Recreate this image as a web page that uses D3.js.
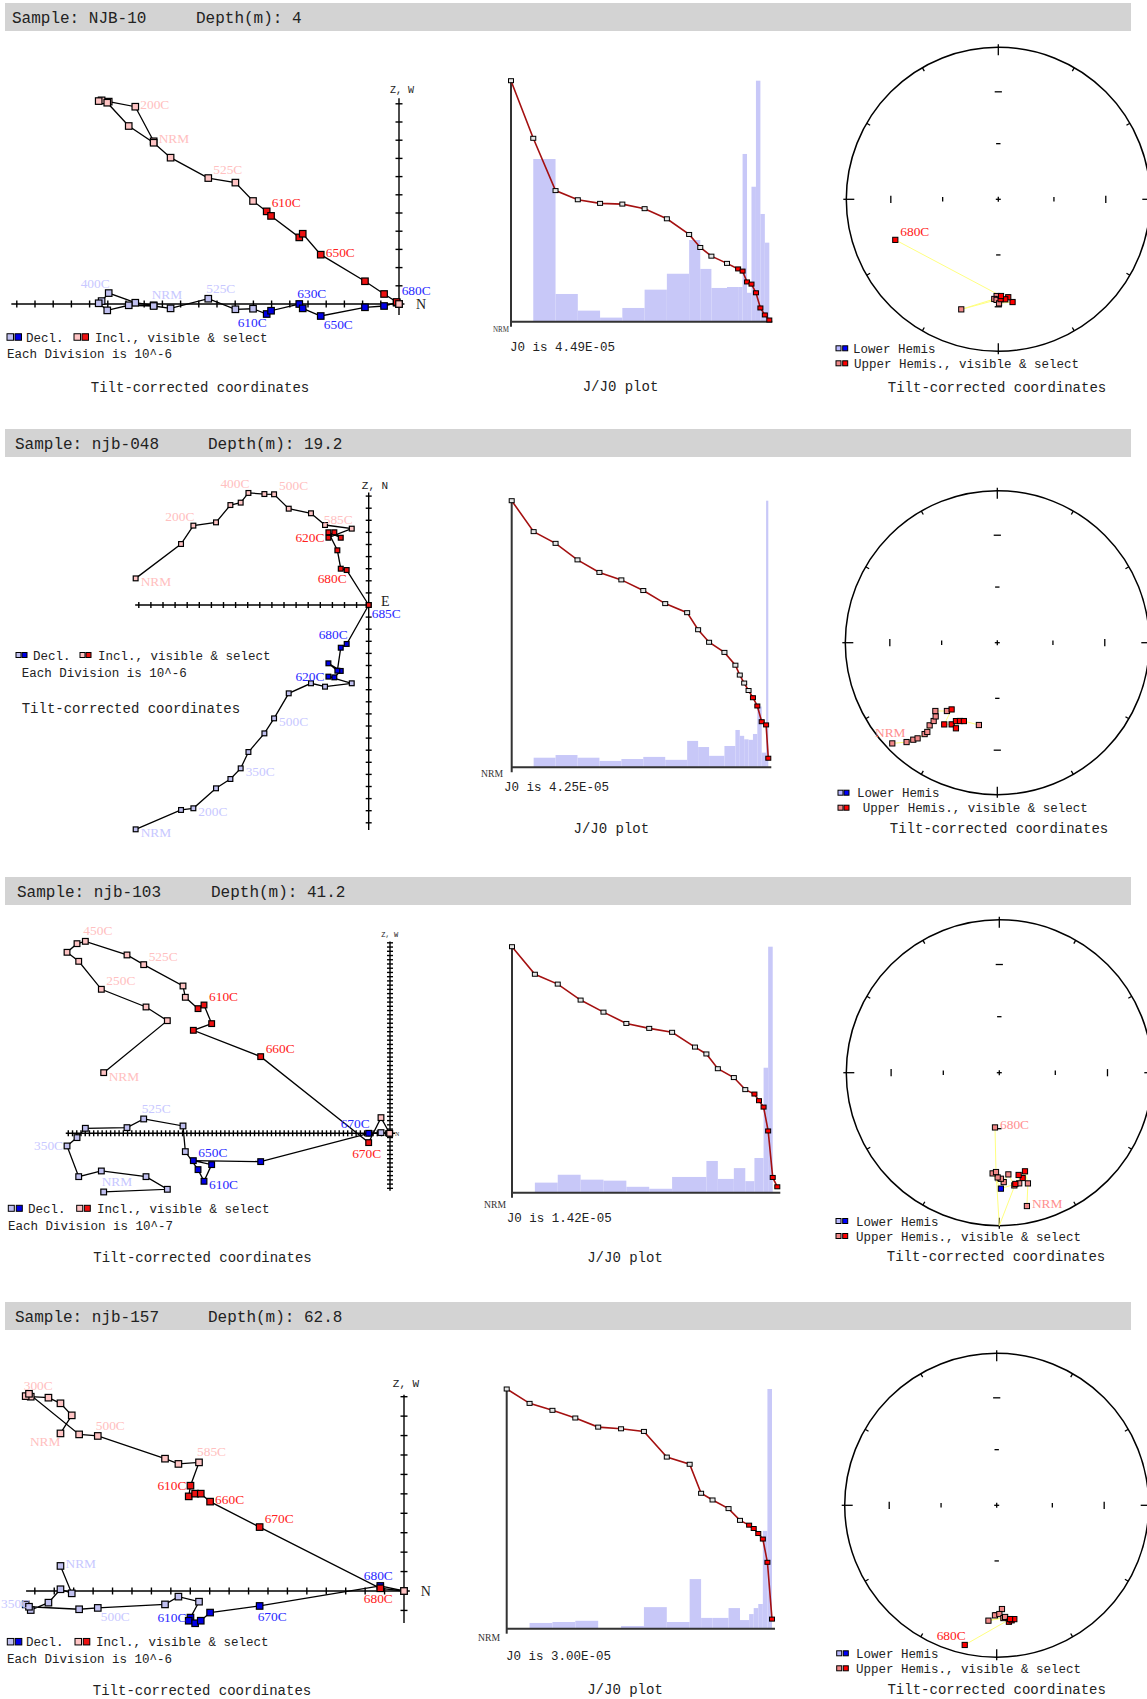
<!DOCTYPE html>
<html>
<head>
<meta charset="utf-8">
<script src="https://cdn.jsdelivr.net/npm/d3@7/dist/d3.min.js"></script>
<style>
  body { margin: 0; background: #fff; }
  svg text { font-family: "Liberation Mono", monospace; fill: #222; }
</style>
</head>
<body>
<svg id="fig" width="1147" height="1699"></svg>
<script>
// sample headers
const sampleNames = ["NJB-10", "njb-048", "njb-103", "njb-157"];
const sampleDepths = ["4", "19.2", "41.2", "62.8"];
const divisionExp = ["10^-6", "10^-6", "10^-7", "10^-6"];
const j0Values = ["4.49E-05", "4.25E-05", "1.42E-05", "3.00E-05"];

// ---- Zijderveld: horizontal comp., decl-plane comp., incl-plane comp. (in divisions)
const njb10N = [-13.48,-14.49,-15.95,-16.34,-16.50,-16.03,-14.85,-13.48,-12.55,-10.48,-8.99,-8.02,-7.27,-7.03,-5.48,-5.29,-4.30,-1.87,-0.82,-0.13,0];
const njb10Dec = [-0.07,0.07,0.60,0.16,0.04,-0.35,-0.07,-0.11,-0.24,0.29,-0.29,-0.26,-0.55,-0.37,0.00,-0.24,-0.66,-0.18,-0.11,0.07,0];
const njb10Inc = [8.94,10.84,11.12,11.19,11.15,11.06,9.78,8.86,8.04,6.92,6.67,5.66,5.09,4.84,3.66,3.86,2.71,1.25,0.55,0.11,0];
const njb10Sel = [12, 19];

const njb048N = [-19.26,-15.51,-14.49,-12.62,-11.43,-10.58,-9.94,-8.62,-7.82,-6.61,-4.77,-3.61,-1.40,-3.33,-2.84,-2.31,-3.33,-2.59,-2.31,-1.82,0];
const njb048Dec = [-18.54,-16.94,-16.80,-15.15,-14.38,-13.50,-12.15,-10.61,-9.37,-7.30,-6.47,-6.75,-6.47,-5.92,-5.98,-5.45,-4.82,-5.43,-3.53,-3.22,0];
const njb048Inc = [2.20,5.04,6.56,6.83,8.26,8.46,9.26,9.17,9.15,7.96,7.58,6.61,6.31,5.56,6.01,5.56,6.01,4.52,3.00,2.89,0];
const njb048Sel = [13, 20];

const njb103N = [-67.64,-52.60,-57.64,-68.19,-73.54,-76.30,-73.94,-71.97,-62.13,-58.19,-48.90,-48.35,-45.35,-43.94,-42.13,-46.46,-30.55,-5.04,-2.13,-0.08];
const njb103Dec = [-13.86,-13.23,-10.24,-8.90,-10.24,-2.99,-1.02,1.18,1.34,3.39,1.73,-4.33,-8.58,-11.34,-7.40,-6.46,-6.69,0.00,0.16,0];
const njb103Inc = [14.33,26.61,29.84,34.02,40.63,42.76,44.80,45.35,42.13,39.84,34.80,32.13,29.45,30.31,25.91,24.33,18.11,-2.20,3.70,0];
const njb103Sel = [12, 17];

const njb157N = [-17.68,-17.10,-17.68,-18.30,-19.21,-19.47,-19.30,-16.72,-15.76,-12.30,-11.61,-10.55,-10.99,-11.08,-10.75,-10.46,-9.98,-7.43,-1.22,0];
const njb157Dec = [1.29,-0.12,0.09,-0.60,-0.98,-0.69,-0.81,-0.94,-0.87,-0.69,-0.29,-0.55,-1.37,-1.53,-1.66,-1.53,-1.11,-0.77,0.26,0];
const njb157Inc = [8.11,9.04,9.66,9.95,10.00,10.03,10.15,8.06,7.98,6.81,6.54,6.62,5.42,4.87,5.01,5.01,4.60,3.29,0.14,0];
const njb157Sel = [12, 18];

// step labels: [step index, text, placement]
const njb10IncLab = [[0,"NRM","r"],[1,"200C","r"],[9,"525C","ru"],[12,"610C","ru"],[16,"650C","r"]];
const njb10DecLab = [[0,"NRM","u"],[2,"400C","lu"],[9,"525C","u"],[12,"610C","ld"],[14,"630C","u"],[16,"650C","rd"],[19,"680C","ruu"]];
const njb048IncLab = [[0,"NRM","rl"],[2,"200C","lu"],[6,"400C","lu"],[8,"500C","ru"],[12,"585C","lu"],[13,"620C","l"],[19,"680C","ld"]];
const njb048DecLab = [[0,"NRM","rl"],[2,"200C","rl"],[5,"350C","rl"],[8,"500C","rl"],[13,"620C","l"],[19,"680C","lu"],[20,"685C","rd"]];
const njb103IncLab = [[0,"NRM","rl"],[3,"250C","ru"],[7,"450C","u"],[9,"525C","ru"],[13,"610C","ru"],[16,"660C","ru"],[17,"670C","dc"]];
const njb103DecLab = [[0,"NRM","u"],[5,"350C","l"],[9,"525C","u"],[13,"610C","rl"],[15,"650C","ru"],[17,"670C","lu"]];
const njb157IncLab = [[5,"300C","u"],[0,"NRM","ld"],[8,"500C","u"],[11,"585C","u"],[12,"610C","l"],[16,"660C","r"],[17,"670C","ru"],[18,"680C","dc"]];
const njb157DecLab = [[0,"NRM","r"],[5,"350C","l"],[8,"500C","rd"],[12,"610C","l"],[17,"670C","d"],[18,"680C","uc"]];

// ---- J/J0: step temperature, remaining intensity, loss-rate bars (per interval after first step)
const njb10T = [100,150,200,250,300,350,400,450,500,525,550,585,610,620,630,640,650,660,670,680];
const njb10J = [1.0,0.761,0.544,0.506,0.491,0.488,0.469,0.427,0.362,0.308,0.272,0.242,0.219,0.210,0.165,0.156,0.120,0.057,0.028,0.007];
const njb10Bars = [0.675,0.115,0.046,0.017,0.057,0.133,0.199,0.339,0.219,0.140,0.144,0.144,0.696,0.120,0.560,1.0,0.447,0.328];
const njb10JSel = 12;

const njb048T = [100,150,200,250,300,350,400,450,500,525,550,585,610,620,630,640,650,660,670,680,685];
const njb048J = [1.0,0.884,0.840,0.778,0.731,0.703,0.663,0.614,0.580,0.516,0.469,0.431,0.383,0.346,0.316,0.288,0.261,0.230,0.171,0.159,0.034];
const njb048Bars = [0.036,0.046,0.036,0.024,0.031,0.039,0.028,0.099,0.076,0.043,0.080,0.140,0.118,0.105,0.103,0.125,0.228,0.055,1.0];
const njb048JSel = 16;

const njb103T = [100,150,200,250,300,350,400,450,500,525,550,585,610,630,640,650,660,670,680];
const njb103J = [1.0,0.888,0.848,0.783,0.734,0.688,0.668,0.652,0.592,0.564,0.504,0.468,0.419,0.401,0.374,0.348,0.251,0.062,0.024];
const njb103Bars = [0.041,0.073,0.053,0.049,0.024,0.016,0.064,0.064,0.129,0.056,0.100,0.047,0.141,0.141,0.508,1.0,0.0];
const njb103JSel = 13;

const njb157T = [100,150,200,250,300,350,400,450,500,525,550,585,610,630,640,650,660,670,680];
const njb157J = [1.0,0.940,0.911,0.879,0.841,0.834,0.823,0.716,0.686,0.565,0.537,0.501,0.452,0.432,0.418,0.397,0.374,0.277,0.040];
const njb157Bars = [0.024,0.028,0.033,0.003,0.011,0.090,0.028,0.207,0.045,0.045,0.086,0.036,0.061,0.086,0.103,0.408,1.0];
const njb157JSel = 13;

// ---- equal-area net: declination, inclination (neg = upper hemisphere), selected flag
const njb10StDec = [181.0,182.3,198.6,181.0,179.6,172.1,174.2,176.0,178.7,178.4,248.5];
const njb10StInc = [-36.5,-34.7,-24.6,-34.2,-32.1,-32.3,-35.5,-34.4,-34.6,-36.5,-28.0];
const njb10StSel = [0,0,0,0,0,1,1,1,1,1,1];
const njb10StLab = [[10,"680C","ru"]];

const njb048StDec = [226.2,222.4,220.9,219.8,218.5,218.1,219.3,219.1,219.9,222.2,216.4,214.4,213.0,209.2,205.8,207.8,205.5,203.1,192.6];
const njb048StInc = [-4.8,-12.5,-16.7,-19.2,-24.2,-26.3,-30.4,-34.0,-36.9,-39.2,-43.5,-45.8,-36.1,-38.4,-37.5,-41.3,-42.4,-43.3,-43.8];
const njb048StSel = [0,0,0,0,0,0,0,0,0,0,0,1,1,1,1,1,1,1,0];
const njb048StLab = [[0,"NRM","uc"]];

// the step with inclination 0 sits on the primitive and has no marker
const njb103StDec = [168.3,165.5,165.4,167.5,169.3,169.8,172.4,174.9,177.7,179.1,180.9,183.8,179.2,171.8,180.0,181.9,184.5];
const njb103StInc = [-12.0,-26.2,-33.8,-30.2,-32.5,-27.4,-26.6,-33.7,-29.2,-31.3,-32.1,-34.4,25.2,-27.4,0,-35.3,-60.6];
const njb103StSel = [0,0,1,1,1,0,0,0,0,0,0,0,1,1,0,0,0];
const njb103StLab = [[0,"NRM","r"],[16,"680C","r"]];

const njb157StDec = [177.1,180.9,178.6,176.6,184.1,175.7,174.0,172.6,171.2,173.3,192.9];
const njb157StInc = [-32.2,-28.4,-29.2,-26.6,-24.9,-27.2,-24.0,-24.7,-25.2,-25.6,-6.4];
const njb157StSel = [0,0,0,0,0,0,1,1,1,1,1];
const njb157StLab = [[10,"680C","lu"]];

// table built from the arrays above
const samples = [
  { zij: { n: njb10N, dec: njb10Dec, inc: njb10Inc, sel: njb10Sel, incLab: njb10IncLab, decLab: njb10DecLab },
    jj: { T: njb10T, J: njb10J, bars: njb10Bars, sel: njb10JSel },
    st: { dec: njb10StDec, inc: njb10StInc, sel: njb10StSel, lab: njb10StLab } },
  { zij: { n: njb048N, dec: njb048Dec, inc: njb048Inc, sel: njb048Sel, incLab: njb048IncLab, decLab: njb048DecLab },
    jj: { T: njb048T, J: njb048J, bars: njb048Bars, sel: njb048JSel },
    st: { dec: njb048StDec, inc: njb048StInc, sel: njb048StSel, lab: njb048StLab } },
  { zij: { n: njb103N, dec: njb103Dec, inc: njb103Inc, sel: njb103Sel, incLab: njb103IncLab, decLab: njb103DecLab },
    jj: { T: njb103T, J: njb103J, bars: njb103Bars, sel: njb103JSel },
    st: { dec: njb103StDec, inc: njb103StInc, sel: njb103StSel, lab: njb103StLab } },
  { zij: { n: njb157N, dec: njb157Dec, inc: njb157Inc, sel: njb157Sel, incLab: njb157IncLab, decLab: njb157DecLab },
    jj: { T: njb157T, J: njb157J, bars: njb157Bars, sel: njb157JSel },
    st: { dec: njb157StDec, inc: njb157StInc, sel: njb157StSel, lab: njb157StLab } }
];

// layout of each row
const layout = [
  { band: 3, sX: 12, dX: 196,
    zij: { ox: 399, oy: 304, u: 18.2, xL: -21.3, xR: 0.3, yT: 11.3, yB: -0.6, nL: 21, nU: 11, nD: 0, tick: 3.5, sq: 6.5,
           vLab: ["Z, W", 402, 93, 10], hLab: ["N", 416, 309, 14],
           leg: { y: 337, s: 6.5, d: [7, 15], dt: 26, i: [74, 82], it: 95 }, each: [7, 357.5], title: [200, 392, "middle"] },
    jj: { ax: 511, y0: 321.7, y1: 80.7, xl: 769.3, nrm: [493, 331.5, 8, 16], j0: [510, 351], title: [620.5, 391] },
    st: { cx: 998.3, cy: 199.3, R: 152, lx: [836, 842.7], ly: [348.3, 363.3], tx: [853, 854], title: [997, 391.5] } },
  { band: 429, sX: 15, dX: 208,
    zij: { ox: 368.7, oy: 605, u: 12.1, xL: -19.3, xR: 0.2, yT: 9.3, yB: -18.6, nL: 19, nU: 9, nD: 18, tick: 3, sq: 4.8,
           vLab: ["Z, N", 375, 489, 11], hLab: ["E", 381, 606, 14],
           leg: { y: 655, s: 5, d: [16, 22], dt: 33, i: [80, 86], it: 98 }, each: [21.7, 677], title: [21.7, 713, "start"] },
    jj: { ax: 511.7, y0: 767.3, y1: 500.7, xl: 768.3, nrm: [481, 777, 11, 22], j0: [504, 791], title: [611.3, 832.5] },
    st: { cx: 997.3, cy: 642.7, R: 152, lx: [838, 844], ly: [792.7, 807.7], tx: [857, 862.7], title: [999, 833] } },
  { band: 877, sX: 17, dX: 211,
    zij: { ox: 390, oy: 1133.3, u: 4.233, xL: -76.6, xR: 1.2, yT: 45.3, yB: -13.6, nL: 76, nU: 45, nD: 13, tick: 3, sq: 5.7,
           vLab: ["Z, W", 389.7, 936.5, 7], hLab: ["N", 395, 1135.5, 6],
           leg: { y: 1208.3, s: 6, d: [8.3, 16.3], dt: 28, i: [76.7, 84.3], it: 97 }, each: [8, 1229.5], title: [202.5, 1261.5, "middle"] },
    jj: { ax: 512, y0: 1192.7, y1: 946.7, xl: 777.3, nrm: [484, 1208, 11, 22], j0: [506.7, 1221.5], title: [625, 1261.5] },
    st: { cx: 999.3, cy: 1072.7, R: 153, lx: [836, 842.7], ly: [1221, 1236], tx: [856, 856], title: [996, 1261] } },
  { band: 1302, sX: 15, dX: 208,
    zij: { ox: 404, oy: 1591, u: 19.43, xL: -19.45, xR: 0.3, yT: 10.1, yB: -1.65, nL: 19, nU: 10, nD: 1, tick: 3.5, sq: 6.5,
           vLab: ["Z, W", 406, 1387, 11], hLab: ["N", 420.7, 1595.5, 14],
           leg: { y: 1641.7, s: 6.5, d: [7.3, 15.3], dt: 26, i: [75, 83.3], it: 96 }, each: [7, 1662.8], title: [202, 1695, "middle"] },
    jj: { ax: 506.7, y0: 1628.7, y1: 1389, xl: 772, nrm: [478, 1640.5, 11, 22], j0: [506, 1660], title: [625, 1694] },
    st: { cx: 996.7, cy: 1505.3, R: 152, lx: [836.7, 843.3], ly: [1653.3, 1668.3], tx: [856, 856], title: [996.7, 1694] } }
];

const C = {
  incL: "#ffc4c4", inc: "#ee1111", decL: "#c0c0f0", dec: "#0000e6",
  incLabL: "#ffc0c0", incLab: "#ff2020", decLabL: "#c8c8ff", decLab: "#2828ff",
  upL: "#f08888", up: "#ff0000", loL: "#b8b8ff", lo: "#0000ff",
  bar: "#c8c8f8", jline: "#a41010", yel: "#ffff80"
};

// label placement: [dx, dy(baseline), anchor]
const LAB = {
  r: [5, 2, "start"], rl: [5, 8, "start"], ru: [5, -4, "start"], ruu: [5, -8, "start"], rd: [3, 13, "start"],
  u: [-2, -6, "start"], uc: [-2, -6, "middle"], lu: [1, -5, "end"], l: [-4, 4, "end"],
  ld: [0, 13, "end"], d: [-2, 15, "start"], dc: [-2, 15, "middle"]
};

const fig = d3.select("#fig");
const serif = '"Liberation Serif", serif';

function addLabels(g, list, px, py, isSel, col, colL, size) {
  // keep labels inside the figure: an end-anchored label that would run past the left edge starts at the edge
  const place = l => {
    const p = LAB[l[2]], x = px(l[0]) + p[0], w = l[1].length * size * 0.55;
    return p[2] === "end" && x - w < 1 ? [1, "start"] : [x, p[2]];
  };
  g.selectAll(null).data(list).join("text")
    .attr("x", l => place(l)[0])
    .attr("y", l => py(l[0]) + LAB[l[2]][1])
    .attr("text-anchor", l => place(l)[1])
    .style("fill", l => isSel(l[0]) ? col : colL)
    .style("font-family", serif)
    .style("font-size", size + "px")
    .text(l => l[1]);
}

function twoSquares(g, xs, y, s, c1, c2) {
  g.append("rect").attr("x", xs[0]).attr("y", y - s / 2).attr("width", s).attr("height", s)
    .attr("fill", c1).attr("stroke", "#000").attr("stroke-width", 1);
  g.append("rect").attr("x", xs[1]).attr("y", y - s / 2).attr("width", s).attr("height", s)
    .attr("fill", c2).attr("stroke", "#000").attr("stroke-width", 1);
}

function header(row, k) {
  const g = fig.append("g");
  g.append("rect").attr("x", 5).attr("y", row.band).attr("width", 1126).attr("height", 28).attr("fill", "#d3d3d3");
  g.append("text").attr("x", row.sX).attr("y", row.band + 19.5).style("font-size", "16px")
    .text("Sample: " + sampleNames[k]);
  g.append("text").attr("x", row.dX).attr("y", row.band + 19.5).style("font-size", "16px")
    .text("Depth(m): " + sampleDepths[k]);
}

function zijPanel(cfg, d, k) {
  const g = fig.append("g");
  const x = d3.scaleLinear().domain([0, 1]).range([cfg.ox, cfg.ox + cfg.u]);
  const y = d3.scaleLinear().domain([0, 1]).range([cfg.oy, cfg.oy - cfg.u]);
  const ax = g.append("g").attr("stroke", "#000").attr("stroke-width", 1.4);
  ax.append("line").attr("x1", x(cfg.xL)).attr("x2", x(cfg.xR)).attr("y1", y(0)).attr("y2", y(0));
  ax.append("line").attr("x1", x(0)).attr("x2", x(0)).attr("y1", y(cfg.yT)).attr("y2", y(cfg.yB));
  const t = cfg.tick;
  ax.selectAll(null).data(d3.range(1, cfg.nL + 1)).join("line")
    .attr("x1", i => x(-i)).attr("x2", i => x(-i)).attr("y1", y(0) - t).attr("y2", y(0) + t);
  const vt = d3.range(1, cfg.nU + 1).concat(d3.range(1, cfg.nD + 1).map(i => -i));
  ax.selectAll(null).data(vt).join("line")
    .attr("x1", x(0) - t).attr("x2", x(0) + t).attr("y1", i => y(i)).attr("y2", i => y(i));

  g.append("text").attr("x", cfg.vLab[1]).attr("y", cfg.vLab[2]).attr("text-anchor", "middle")
    .style("font-size", cfg.vLab[3] + "px").text(cfg.vLab[0]);
  g.append("text").attr("x", cfg.hLab[1]).attr("y", cfg.hLab[2])
    .style("font-family", serif).style("font-size", cfg.hLab[3] + "px").text(cfg.hLab[0]);

  const isSel = i => i >= d.sel[0] && i <= d.sel[1];
  const pts = d.n.map((n, i) => ({ i, n, dec: d.dec[i], inc: d.inc[i], sel: isSel(i) }));
  const lDec = d3.line().x(p => x(p.n)).y(p => y(p.dec));
  const lInc = d3.line().x(p => x(p.n)).y(p => y(p.inc));
  g.append("path").datum(pts).attr("d", lDec).attr("fill", "none").attr("stroke", "#000").attr("stroke-width", 1.3);
  g.append("path").datum(pts).attr("d", lInc).attr("fill", "none").attr("stroke", "#000").attr("stroke-width", 1.3);
  const s = cfg.sq;
  g.selectAll(null).data(pts).join("rect")
    .attr("x", p => x(p.n) - s / 2).attr("y", p => y(p.dec) - s / 2).attr("width", s).attr("height", s)
    .attr("fill", p => p.sel ? C.dec : C.decL).attr("stroke", "#000").attr("stroke-width", 1.2);
  g.selectAll(null).data(pts).join("rect")
    .attr("x", p => x(p.n) - s / 2).attr("y", p => y(p.inc) - s / 2).attr("width", s).attr("height", s)
    .attr("fill", p => p.sel ? C.inc : C.incL).attr("stroke", "#000").attr("stroke-width", 1.2);

  addLabels(g, d.incLab, i => x(d.n[i]), i => y(d.inc[i]), isSel, C.incLab, C.incLabL, 13.4);
  addLabels(g, d.decLab, i => x(d.n[i]), i => y(d.dec[i]), isSel, C.decLab, C.decLabL, 13.4);

  // legend
  const L = cfg.leg;
  twoSquares(g, L.d, L.y, L.s, C.decL, C.dec);
  twoSquares(g, L.i, L.y, L.s, C.incL, C.inc);
  g.append("text").attr("x", L.dt).attr("y", L.y + 4.5).style("font-size", "12.5px").text("Decl.");
  g.append("text").attr("x", L.it).attr("y", L.y + 4.5).style("font-size", "12.5px").text("Incl., visible & select");
  g.append("text").attr("x", cfg.each[0]).attr("y", cfg.each[1]).style("font-size", "12.5px")
    .text("Each Division is " + divisionExp[k]);
  g.append("text").attr("x", cfg.title[0]).attr("y", cfg.title[1]).attr("text-anchor", cfg.title[2])
    .style("font-size", "14px").text("Tilt-corrected coordinates");
}

function jjPanel(cfg, d, k) {
  const g = fig.append("g");
  const T = d.T;
  const x = d3.scaleLinear().domain([T[0], T[T.length - 1]]).range([cfg.ax, cfg.xl]);
  const y = d3.scaleLinear().domain([0, 1]).range([cfg.y0, cfg.y1]);
  // loss-rate histogram, one bar per interval after the first step
  g.selectAll(null).data(d.bars).join("rect")
    .attr("x", (b, i) => x(T[i + 1]))
    .attr("width", (b, i) => x(T[i + 2]) - x(T[i + 1]))
    .attr("y", b => y(b)).attr("height", b => y(0) - y(b))
    .attr("fill", C.bar);
  g.append("line").attr("x1", cfg.ax).attr("x2", cfg.ax).attr("y1", y(1) - 1).attr("y2", y(0) + 5)
    .attr("stroke", "#333").attr("stroke-width", 2);
  g.append("line").attr("x1", cfg.ax).attr("x2", cfg.xl + 3).attr("y1", y(0)).attr("y2", y(0))
    .attr("stroke", "#333").attr("stroke-width", 2);
  const pts = T.map((t, i) => ({ t, j: d.J[i], sel: i >= d.sel }));
  g.append("path").datum(pts).attr("d", d3.line().x(p => x(p.t)).y(p => y(p.j)))
    .attr("fill", "none").attr("stroke", C.jline).attr("stroke-width", 1.6);
  g.selectAll(null).data(pts).join("rect")
    .attr("x", p => x(p.t) - 2.5).attr("y", p => y(p.j) - 2).attr("width", 5).attr("height", 4)
    .attr("fill", p => p.sel ? "#ff0000" : "#e6e6e6").attr("stroke", "#000").attr("stroke-width", 1);
  g.append("text").attr("x", cfg.nrm[0]).attr("y", cfg.nrm[1])
    .attr("textLength", cfg.nrm[3]).attr("lengthAdjust", "spacingAndGlyphs")
    .style("font-family", serif).style("font-size", cfg.nrm[2] + "px").style("fill", "#333").text("NRM");
  g.append("text").attr("x", cfg.j0[0]).attr("y", cfg.j0[1]).style("font-size", "12.5px")
    .text("J0 is " + j0Values[k]);
  g.append("text").attr("x", cfg.title[0]).attr("y", cfg.title[1]).attr("text-anchor", "middle")
    .style("font-size", "14px").text("J/J0 plot");
}

function stPanel(cfg, d) {
  const g = fig.append("g");
  const { cx, cy, R } = cfg;
  const rs = d3.scaleLinear().domain([0, 1]).range([0, R]);
  const rad = inc => rs(Math.SQRT2 * Math.sin((90 - Math.abs(inc)) / 2 * Math.PI / 180));
  const proj = (dec, inc) => {
    const a = dec * Math.PI / 180, r = rad(inc);
    return [cx + r * Math.sin(a), cy - r * Math.cos(a)];
  };
  g.append("circle").attr("cx", cx).attr("cy", cy).attr("r", R)
    .attr("fill", "none").attr("stroke", "#000").attr("stroke-width", 1.5);
  const ax = g.append("g").attr("stroke", "#000").attr("stroke-width", 1.3);
  ax.selectAll(null).data(d3.range(0, 360, 30)).join("line")
    .each(function (az) {
      const a = az * Math.PI / 180, r1 = az % 90 === 0 ? R - 8 : R - 4, r2 = az % 90 === 0 ? R + 3 : R;
      d3.select(this).attr("x1", cx + r1 * Math.sin(a)).attr("y1", cy - r1 * Math.cos(a))
        .attr("x2", cx + r2 * Math.sin(a)).attr("y2", cy - r2 * Math.cos(a));
    });
  // inclination marks at 60 and 30 degrees on both diameters
  [[60, 2.2], [30, 3.6]].forEach(([inc, h]) => {
    const r = rad(inc);
    [-1, 1].forEach(sg => {
      ax.append("line").attr("x1", cx + sg * r).attr("x2", cx + sg * r).attr("y1", cy - h).attr("y2", cy + h);
      ax.append("line").attr("x1", cx - h).attr("x2", cx + h).attr("y1", cy + sg * r).attr("y2", cy + sg * r);
    });
  });
  ax.append("line").attr("x1", cx - 2.5).attr("x2", cx + 2.5).attr("y1", cy).attr("y2", cy);
  ax.append("line").attr("x1", cx).attr("x2", cx).attr("y1", cy - 2.5).attr("y2", cy + 2.5);

  const pts = d.dec.map((dec, i) => ({ i, p: proj(dec, d.inc[i]), inc: d.inc[i], sel: d.sel[i] === 1 }));
  g.append("path").datum(pts).attr("d", d3.line().x(q => q.p[0]).y(q => q.p[1]))
    .attr("fill", "none").attr("stroke", C.yel).attr("stroke-width", 1);
  const col = q => q.inc < 0 ? (q.sel ? C.up : C.upL) : (q.sel ? C.lo : C.loL);
  g.selectAll(null).data(pts.filter(q => q.inc !== 0)).join("rect")
    .attr("x", q => q.p[0] - 2.6).attr("y", q => q.p[1] - 2.6).attr("width", 5.2).attr("height", 5.2)
    .attr("fill", col).attr("stroke", "#000").attr("stroke-width", 1);
  addLabels(g, d.lab, i => pts[i].p[0], i => pts[i].p[1], i => d.sel[i] === 1, "#ff2020", "#ff9090", 13.4);

  twoSquares(g, cfg.lx, cfg.ly[0], 5, C.loL, C.lo);
  twoSquares(g, cfg.lx, cfg.ly[1], 5, C.upL, C.up);
  g.append("text").attr("x", cfg.tx[0]).attr("y", cfg.ly[0] + 4.5).style("font-size", "12.5px").text("Lower Hemis");
  g.append("text").attr("x", cfg.tx[1]).attr("y", cfg.ly[1] + 4.5).style("font-size", "12.5px").text("Upper Hemis., visible & select");
  g.append("text").attr("x", cfg.title[0]).attr("y", cfg.title[1]).attr("text-anchor", "middle")
    .style("font-size", "14px").text("Tilt-corrected coordinates");
}

layout.forEach((row, k) => {
  header(row, k);
  zijPanel(row.zij, samples[k].zij, k);
  jjPanel(row.jj, samples[k].jj, k);
  stPanel(row.st, samples[k].st);
});
</script>
</body>
</html>
